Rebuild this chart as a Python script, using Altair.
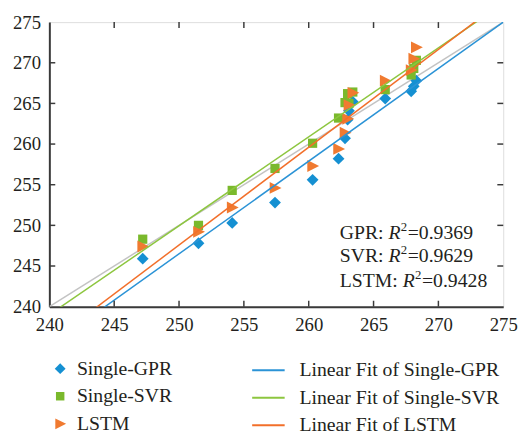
import altair as alt
import pandas as pd

# ---- data ----
actual = [247.2, 251.5, 254.1, 257.4, 260.3, 262.3, 262.8, 263.0, 263.1, 263.4, 265.9, 267.9, 268.1, 268.3]
pred_gpr = [245.9, 247.8, 250.3, 252.8, 255.6, 258.2, 260.7, 263.0, 264.1, 265.2, 265.6, 266.5, 267.1, 267.8]
pred_svr = [248.3, 250.0, 254.3, 257.0, 260.1, 263.2, 265.1, 266.2, 265.0, 266.4, 266.7, 268.5, 269.3, 270.3]
pred_lstm = [247.4, 249.2, 252.2, 254.6, 257.3, 259.4, 261.4, 263.1, 264.8, 266.3, 267.8, 269.1, 270.5, 271.9]
series = ["Single-GPR", "Single-SVR", "LSTM"]
fit_names = ["Linear Fit of Single-GPR", "Linear Fit of Single-SVR", "Linear Fit of LSTM"]
fit_slope = [1.140, 1.094, 1.203]
fit_intercept = [-38.50, -23.55, -53.17]
r2_models = ["GPR", "SVR", "LSTM"]
r2_values = ["0.9369", "0.9629", "0.9428"]
axis_ticks = [240, 245, 250, 255, 260, 265, 270, 275]
diag = [240, 275]

# ---- styling ----
point_colors = ["#1590d2", "#7ab92c", "#f07a30"]
line_colors = ["#2b93d6", "#8dc63f", "#f26f2a"]
# custom unit-square symbol paths: diamond, small square, right-pointing triangle
shapes = ["M0,-1L1,0L0,1L-1,0Z",
          "M-0.78,-0.78H0.78V0.78H-0.78Z",
          "M-0.9,-1L1.1,0L-0.9,1Z"]
FONT = "Liberation Serif"
TXT = "#231f20"
AX = "#3a3a3a"
W, H = 461, 289

preds = [pred_gpr, pred_svr, pred_lstm]
pts = pd.DataFrame(
    [{"actual": a, "pred": p, "series": s} for s, ps in zip(series, preds) for a, p in zip(actual, ps)]
)
fits = pd.DataFrame(
    [{"x": x, "y": a + b * x, "fit": n}
     for n, b, a in zip(fit_names, fit_slope, fit_intercept) for x in diag]
)
diag_df = pd.DataFrame({"x": diag, "y": diag})
tick_df = pd.DataFrame({"v": axis_ticks[1:-1]})

xs = alt.Scale(domain=[240, 275], nice=False, zero=False)
ys = alt.Scale(domain=[240, 275], nice=False, zero=False)


def axis():
    return alt.Axis(values=axis_ticks, title=None, grid=False, ticks=False, labelFont=FONT,
                    labelFontSize=19, labelColor=TXT, labelPadding=9, domainColor=AX,
                    domainWidth=2, format="d", labelFlush=False)


def pt_legend():
    return alt.Legend(title=None, orient="none", legendX=1, legendY=342, labelFont=FONT,
                      labelFontSize=20, labelColor=TXT, rowPadding=8, symbolSize=121,
                      labelOffset=7, padding=0, symbolStrokeWidth=0, symbolOpacity=1)


diag_line = alt.Chart(diag_df).mark_line(color="#c3c3c3", strokeWidth=1.5, clip=True).encode(
    x=alt.X("x:Q", scale=xs, axis=axis()), y=alt.Y("y:Q", scale=ys, axis=axis())
)

points = alt.Chart(pts).mark_point(filled=True, opacity=1, size=144).encode(
    x=alt.X("actual:Q", scale=xs, axis=axis()),
    y=alt.Y("pred:Q", scale=ys, axis=axis()),
    color=alt.Color("series:N", scale=alt.Scale(domain=series, range=point_colors), legend=pt_legend()),
    shape=alt.Shape("series:N", scale=alt.Scale(domain=series, range=shapes), legend=pt_legend()),
)

fit_lines = alt.Chart(fits).mark_line(strokeWidth=1.5, clip=True).encode(
    x=alt.X("x:Q", scale=xs, axis=axis()),
    y=alt.Y("y:Q", scale=ys, axis=axis()),
    stroke=alt.Stroke("fit:N", scale=alt.Scale(domain=fit_names, range=line_colors),
                      legend=alt.Legend(title=None, orient="none", legendX=205, legendY=336,
                                        labelFont=FONT, labelFontSize=20, labelColor=TXT,
                                        labelLimit=400,
                                        symbolType="stroke", symbolSize=1089, symbolStrokeWidth=2,
                                        rowPadding=-6.5, labelOffset=14, padding=0)),
)

tk = dict(color=AX, strokeWidth=1.5)
ticks_b = alt.Chart(tick_df).mark_rule(**tk).encode(
    x=alt.X("v:Q", scale=xs, axis=axis()), y=alt.value(H), y2=alt.value(H - 6))
ticks_t = alt.Chart(tick_df).mark_rule(**tk).encode(
    x=alt.X("v:Q", scale=xs, axis=axis()), y=alt.value(0), y2=alt.value(6))
ticks_l = alt.Chart(tick_df).mark_rule(**tk).encode(
    y=alt.Y("v:Q", scale=ys, axis=axis()), x=alt.value(0), x2=alt.value(6))
ticks_r = alt.Chart(tick_df).mark_rule(**tk).encode(
    y=alt.Y("v:Q", scale=ys, axis=axis()), x=alt.value(W), x2=alt.value(W - 6))

# R^2 annotation
ann = []
base_x = 295
baselines = [220, 244, 269]
prefix_w = [49.5, 49.5, 64]
one = pd.DataFrame({"k": [0]})
for m, v, by, pw in zip(r2_models, r2_values, baselines, prefix_w):
    rx = base_x + pw
    ann.append(alt.Chart(one).mark_text(align="left", baseline="alphabetic", font=FONT, fontSize=20,
                                        color=TXT).encode(x=alt.value(base_x), y=alt.value(by),
                                                          text=alt.value(m + ":")))
    ann.append(alt.Chart(one).mark_text(align="left", baseline="alphabetic", font=FONT, fontSize=20,
                                        fontStyle="italic", color=TXT).encode(
        x=alt.value(rx), y=alt.value(by), text=alt.value("R")))
    ann.append(alt.Chart(one).mark_text(align="left", baseline="alphabetic", font=FONT, fontSize=13,
                                        color=TXT).encode(
        x=alt.value(rx + 12.5), y=alt.value(by - 8), text=alt.value("2")))
    ann.append(alt.Chart(one).mark_text(align="left", baseline="alphabetic", font=FONT, fontSize=20,
                                        color=TXT).encode(
        x=alt.value(rx + 19.5), y=alt.value(by), text=alt.value("=" + v)))

chart = alt.layer(diag_line, points, fit_lines, ticks_b, ticks_t, ticks_l, ticks_r, *ann).properties(
    width=W, height=H,
    autosize=alt.AutoSizeParams(type="none"),
    padding={"left": 42, "top": 11, "right": 15, "bottom": 126},
).configure_view(
    stroke="#555555", strokeWidth=1.5
).configure(background="white")

chart.save("out.html", embed_options={"renderer": "svg", "actions": False})
